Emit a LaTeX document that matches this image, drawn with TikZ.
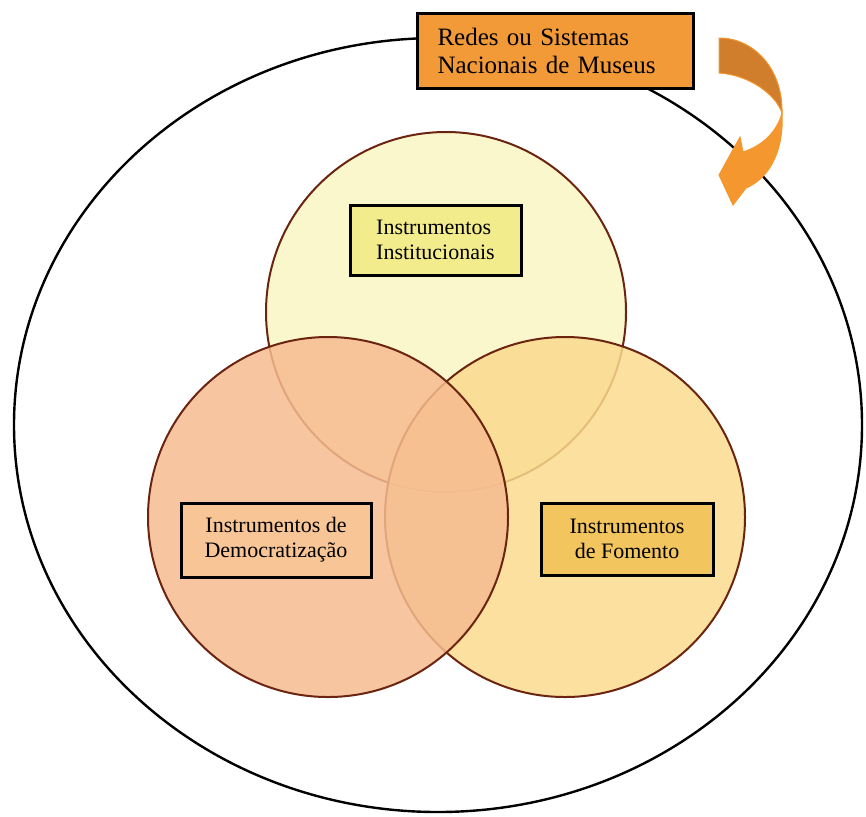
\documentclass[tikz,border=0pt]{standalone}
\usepackage{fontspec}
\setmainfont{Liberation Serif}
\usepackage{xcolor}
\usetikzlibrary{shapes.geometric}

\definecolor{redesorange}{HTML}{F39A38}
\definecolor{arrowdark}{HTML}{D07D2C}
\definecolor{arrowlight}{HTML}{F5972F}
\definecolor{setborder}{HTML}{6B2410}
\definecolor{instfill}{HTML}{FAF6C4}
\definecolor{demofill}{HTML}{F6BC90}
\definecolor{fomfill}{HTML}{FBDA8E}
\definecolor{instbox}{HTML}{F3EC8C}
\definecolor{demobox}{HTML}{F8C597}
\definecolor{fombox}{HTML}{F2C55E}

\begin{document}
\begin{tikzpicture}[x=0.5pt,y=-0.5pt,semithick]
		\tikzstyle{set}=[circle,draw=setborder,line width=1pt,inner sep=0pt,minimum size=180pt,fill opacity=0.85]
		\tikzstyle{label box}=[rectangle,draw=black,line width=1.5pt,align=center,text=black,font=\fontsize{11}{12.5}\selectfont]
		\useasboundingbox (0,0) rectangle (866,816);
		\node[ellipse,draw=black,line width=1.2pt,inner sep=0pt,minimum width=424pt,minimum height=387pt] (sistema) at (438,425) {};
		\node[set,fill=instfill]    (inst) at (446,312) {};
		\node[set,fill=fomfill]     (fom)  at (565,517) {};
		\node[set,fill=demofill]    (demo) at (328,517) {};
		\node[label box,fill=instbox,align=left,minimum width=85.5pt,minimum height=35pt] (instlabel) at (435.5,240) {Instrumentos\\Institucionais};
		\node[label box,fill=demobox,minimum width=95pt,minimum height=37pt]  (demolabel) at (276,540) {Instrumentos de\\Democratização};
		\node[label box,fill=fombox,minimum width=86pt,minimum height=36pt]   (fomlabel)  at (627,539) {Instrumentos\\de Fomento};
		\node[label box,fill=redesorange,align=left,text width=118pt,inner xsep=10pt,minimum height=37.5pt,font=\fontsize{12.5}{14}\selectfont] (redes) at (555.5,50.5) {Redes ou Sistemas\\Nacionais de Museus};
		% curved arrow
		\filldraw[fill=arrowdark,draw=arrowlight,line width=0.5pt] (719,38) .. controls (755,38) and (783,70) .. (782,113) .. controls (776,95) and (750,75) .. (719,73) -- cycle;
		\filldraw[fill=arrowlight,draw=arrowlight,line width=0.5pt] (782,113) .. controls (784,150) and (770,178) .. (746,188) -- (733,205) -- (719,175) -- (740,137) -- (743,152) .. controls (762,146) and (777,132) .. (782,113) -- cycle;
	\end{tikzpicture}
\end{document}
